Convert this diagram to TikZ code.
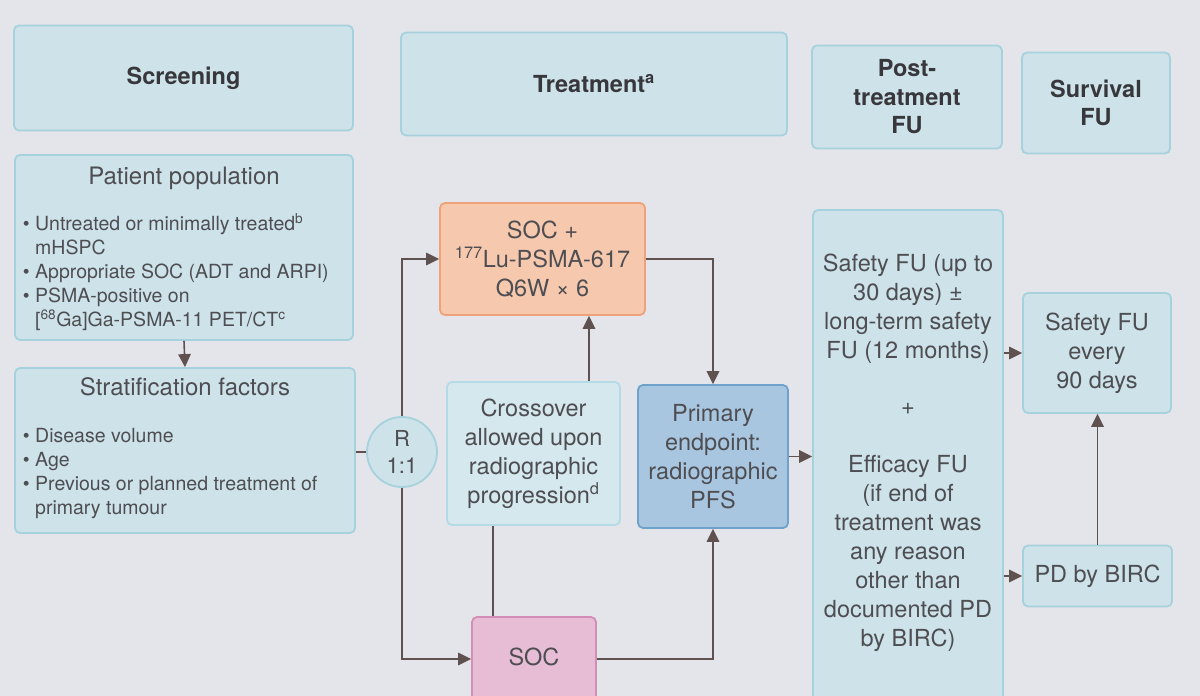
\documentclass[tikz,border=0pt]{standalone}
\usepackage{fontspec}
\setmainfont{TeX Gyre Heros}
\usetikzlibrary{arrows.meta}
\definecolor{bg}{HTML}{E4E5EA}
\definecolor{boxfill}{HTML}{CDE2E9}
\definecolor{boxline}{HTML}{A6D2DE}
\definecolor{crfill}{HTML}{D5E8EE}
\definecolor{crline}{HTML}{B4DBE5}
\definecolor{orfill}{HTML}{F6C9AE}
\definecolor{orline}{HTML}{EFA27A}
\definecolor{bluefill}{HTML}{A8C6E0}
\definecolor{blueline}{HTML}{6FA2CB}
\definecolor{pkfill}{HTML}{E6BDD5}
\definecolor{pkline}{HTML}{D48DB5}
\definecolor{txt}{HTML}{4E4E52}
\definecolor{hdrtxt}{HTML}{38383C}
\definecolor{arr}{HTML}{5E5150}
\begin{document}
\begin{tikzpicture}[x=1pt,y=-1pt,
  box/.style={draw=boxline, fill=boxfill, line width=1.8pt, rounded corners=5pt, inner sep=0pt, text=txt, align=center},
  crbox/.style={box, draw=crline, fill=crfill},
  orbox/.style={box, draw=orline, fill=orfill},
  blbox/.style={box, draw=blueline, fill=bluefill},
  pkbox/.style={box, draw=pkline, fill=pkfill},
  hdr/.style={text=hdrtxt, font=\bfseries\fontsize{23.5}{28.5}\selectfont},
  big/.style={text=txt, align=center, font=\fontsize{23.5}{29}\selectfont},
  ttl/.style={text=txt, font=\fontsize{24}{29}\selectfont, inner sep=0pt},
  bul/.style={text=txt, align=left, font=\fontsize{19.5}{24}\selectfont, inner sep=0pt},
  conn/.style={draw=arr, line width=1.6pt},
  arw/.style={-{Triangle[length=13pt,width=12.5pt]}}
]
\useasboundingbox (0,0) rectangle (1200,696);
\clip (0,0) rectangle (1200,696);
\fill[bg] (0,0) rectangle (1200,696);

% headers
\node[box, hdr, minimum width=339pt, minimum height=105pt] (scr) at (183.5,78) {Screening};
\node[box, hdr, minimum width=386pt, minimum height=103pt] (trt) at (594,84) {Treatment\textsuperscript{a}};
\node[box, hdr, minimum width=190pt, minimum height=103pt] (post) at (907,97) {Post-\\treatment\\FU};
\node[box, hdr, minimum width=148pt, minimum height=101pt] (surv) at (1096,103) {Survival\\FU};

% screening column
\node[box, minimum width=338pt, minimum height=185pt] (pop) at (184,247.5) {};
\node[ttl] (popt) at (184,178) {Patient population};
\node[bul, anchor=north west] (popl) at (35,213) {\llap{\textbullet\ }Untreated or minimally treated\textsuperscript{b}\\mHSPC\\\llap{\textbullet\ }Appropriate SOC (ADT and ARPI)\\\llap{\textbullet\ }PSMA-positive on\\{[}\textsuperscript{68}Ga{]}Ga-PSMA-11 PET/CT\textsuperscript{c}};

\node[box, minimum width=340pt, minimum height=165pt] (strat) at (185,450.5) {};
\node[ttl] (stratt) at (185,387) {Stratification factors};
\node[bul, anchor=north west] (stratl) at (35,428) {\llap{\textbullet\ }Disease volume\\\llap{\textbullet\ }Age\\\llap{\textbullet\ }Previous or planned treatment of\\primary tumour};

\node[box, circle, minimum size=70pt, font=\fontsize{22}{27}\selectfont] (R) at (402,452) {R\\1:1};

% treatment column
\node[orbox, big, minimum width=205pt, minimum height=112pt] (soc1) at (542.5,259) {SOC +\\\textsuperscript{177}Lu-PSMA-617\\Q6W × 6};
\node[crbox, big, minimum width=173pt, minimum height=143pt] (cross) at (533.5,453.5) {Crossover\\allowed upon\\radiographic\\progression\textsuperscript{d}};
\node[blbox, big, minimum width=150pt, minimum height=143pt] (prim) at (713,456.5) {Primary\\endpoint:\\radiographic\\PFS};
\node[pkbox, big, minimum width=124pt, minimum height=84pt, text depth=0pt] (soc) at (534,659) {\raisebox{5pt}{SOC}};

% post-treatment
\node[box, minimum width=190pt, minimum height=500pt] (fu) at (908,460) {};
\node[big] (fua) at (908,309) {Safety FU (up to\\30 days) ±\\long-term safety\\FU (12 months)};
\node[big] (plus) at (908,409) {+};
\node[big] (fub) at (908,553) {Efficacy FU\\(if end of\\treatment was\\any reason\\other than\\documented PD\\by BIRC)};

% survival
\node[box, big, minimum width=148pt, minimum height=120pt] (sfu) at (1097,353) {Safety FU\\every\\90 days};
\node[box, big, minimum width=149pt, minimum height=61pt] (pd) at (1097.5,576) {PD by BIRC};

% connectors
\draw[conn, arw] (pop.south) -- (strat.north);
\draw[conn] (strat.east |- R.west) -- (R.west);
\draw[conn, arw] (R.north) |- (soc1.west);
\draw[conn, arw] (R.south) |- (soc.west);
\draw[conn, arw] ([xshift=55.5pt]cross.north) -- ([xshift=55.5pt]cross.north |- soc1.south);
\draw[conn] ([xshift=-40.5pt]cross.south) -- ([xshift=-40.5pt]cross.south |- soc.north);
\draw[conn, arw] (soc1.east) -| (prim.north);
\draw[conn, arw] (soc.east) -| (prim.south);
\draw[conn, arw] (prim.east) -- (prim.east -| fu.west);
\draw[conn, arw] (sfu.west -| fu.east) -- (sfu.west);
\draw[conn, arw] (pd.west -| fu.east) -- (pd.west);
\draw[conn, arw] (pd.north) -- (pd.north |- sfu.south);
\end{tikzpicture}
\end{document}
